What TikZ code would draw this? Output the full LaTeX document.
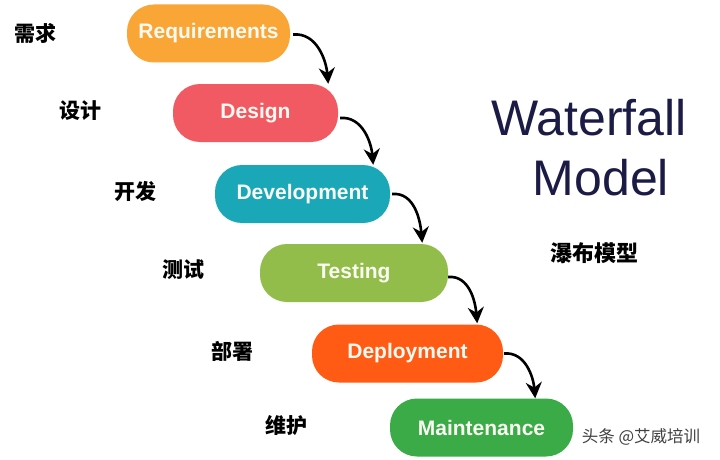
\documentclass[tikz,border=0pt]{standalone}
\usepackage{fontspec}
\setmainfont{Liberation Sans}
\newfontfamily\cjk{Noto Sans CJK SC}
\usetikzlibrary{arrows.meta,calc}
\definecolor{creq}{HTML}{F9A636}
\definecolor{cdes}{HTML}{F25A63}
\definecolor{cdev}{HTML}{1AA8B8}
\definecolor{ctst}{HTML}{93BD4A}
\definecolor{cdep}{HTML}{FF5B14}
\definecolor{cmnt}{HTML}{3AAB47}
\definecolor{navy}{HTML}{1B1B45}
\definecolor{boxtext}{HTML}{FAFAF2}
\begin{document}
\begin{tikzpicture}[x=1pt,y=-1pt,
  stage/.style={rectangle, rounded corners=27pt, minimum height=58pt, inner sep=0pt,
    text=boxtext, font=\bfseries\fontsize{21}{24}\selectfont},
  cnlabel/.style={font=\cjk\bfseries\fontsize{21}{24}\selectfont, text=black, inner sep=0pt},
  flow/.style={draw=black, line width=2.6pt, -{Stealth[length=16pt,width=16pt]}}]
\useasboundingbox (0,0) rectangle (720,460);
\fill[white] (0,0) rectangle (720,460);

\node[stage, fill=creq, minimum width=163pt] (req) at (208.5,33.5) {Requirements};
\node[stage, fill=cdes, minimum width=165pt] (des) at (255.5,113) {Design};
\node[stage, fill=cdev, minimum width=175pt] (dev) at (302.5,194) {Development};
\node[stage, fill=ctst, minimum width=188pt] (tst) at (354,273) {Testing};
\node[stage, fill=cdep, minimum width=191pt] (dep) at (407.5,353.5) {Deployment};
\node[stage, fill=cmnt, minimum width=183pt] (mnt) at (481.5,427.5) {Maintenance};

\draw[flow] ($(req.east)+(3,1)$) to[out=5,in=95] ($(des.north east)+(-10,0)$);
\draw[flow] ($(des.east)+(2,5)$) to[out=5,in=95] ($(dev.north east)+(-17,0)$);
\draw[flow] ($(dev.east)+(2,0)$) to[out=5,in=95] ($(tst.north east)+(-26,-1)$);
\draw[flow] ($(tst.east)+(0,4)$) to[out=5,in=95] ($(dep.north east)+(-26,-1)$);
\draw[flow] ($(dep.east)+(1,0)$) to[out=5,in=95] ($(mnt.north east)+(-38,0)$);

\node[cnlabel] (l1) at (35,33) {需求};
\node[cnlabel] (l2) at (80,111) {设计};
\node[cnlabel] (l3) at (135,191) {开发};
\node[cnlabel] (l4) at (183,270) {测试};
\node[cnlabel] (l5) at (232,351) {部署};
\node[cnlabel] (l6) at (286,425) {维护};

\node[text=navy, font=\fontsize{50}{56}\selectfont, anchor=base, inner sep=0pt] (t1) at (589,135) {Waterfall};
\node[text=navy, font=\fontsize{50}{56}\selectfont, anchor=base, inner sep=0pt] (t2) at (601,195) {Model};
\node[cnlabel, font=\cjk\bfseries\fontsize{22}{24}\selectfont] (t3) at (594,253) {瀑布模型};

\node[text=black!75, font=\cjk\fontsize{16.5}{18}\selectfont, inner sep=0pt] (wm) at (641,437) {头条 @艾威培训};
\end{tikzpicture}
\end{document}
